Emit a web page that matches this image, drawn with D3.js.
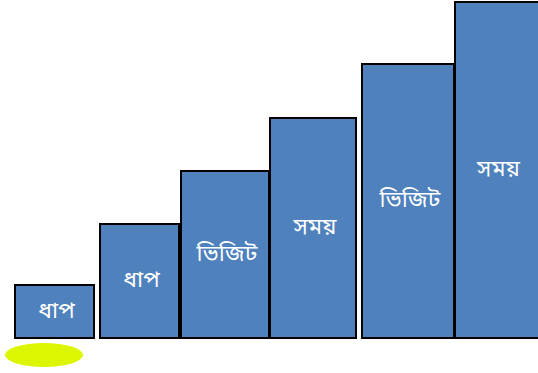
<!DOCTYPE html>
<html><head><meta charset="utf-8">
<script src="https://cdn.jsdelivr.net/npm/d3@7"></script>
<style>html,body{margin:0;padding:0;background:#fff;}svg{display:block;}</style>
</head><body><div id="chart"></div>
<script>
const labels = ["ধাপ","ধাপ","ভিজিট","সময়","ভিজিট","সময়"];
const values = [53, 114, 167, 220, 274, 336];
const startPos = [15, 100, 181, 270, 362, 455];
const endPos = [94, 179, 269, 356, 454, 540];

const W = 538, H = 373;
const svg = d3.select("#chart").append("svg").attr("width", W).attr("height", H);
const x = d3.scaleLinear().domain([0, 538]).range([0, W]);
const y = d3.scaleLinear().domain([0, 336]).range([338, 2]);

const data = labels.map((l,i)=>({l, v: values[i], s: startPos[i], e: endPos[i]}));

svg.append("ellipse").attr("cx", 44).attr("cy", 355).attr("rx", 39).attr("ry", 12).attr("fill", "#dcf500");

const g = svg.selectAll("g.bar").data(data).enter().append("g").attr("class","bar");
g.append("rect")
  .attr("x", d=>x(d.s)).attr("width", d=>x(d.e)-x(d.s))
  .attr("y", d=>y(d.v)).attr("height", d=>y(0)-y(d.v))
  .attr("fill", "#4f81bd").attr("stroke", "#000").attr("stroke-width", 2);
g.append("text")
  .attr("x", d=>(x(d.s)+x(Math.min(d.e,538)))/2 + 2)
  .attr("y", d=>(y(d.v)+y(0))/2)
  .attr("text-anchor","middle").attr("dominant-baseline","central")
  .attr("fill","#fff").attr("font-size", 23)
  .attr("font-family","'Noto Sans Bengali','Noto Sans','DejaVu Sans',sans-serif")
  .text(d=>d.l);
</script></body></html>
